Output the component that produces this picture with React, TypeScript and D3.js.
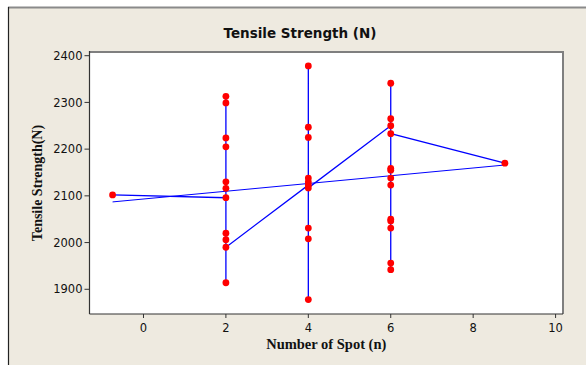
import React from 'react';
import * as d3 from 'd3';

// Scatter of tensile strength vs number of spots, with a connect line
// through the runs (worksheet order) and a fitted straight line.

const WIDTH = 586;
const HEIGHT = 365;
const PLOT = { left: 89.5, right: 563, top: 52, bottom: 314 };

// runs in worksheet order
const spots = [
  -0.75,
  2, 2, 2, 2, 2, 2, 2, 2, 2, 2, 2,
  4, 4, 4, 4, 4, 4, 4, 4, 4, 4,
  6, 6, 6, 6, 6, 6, 6, 6, 6, 6, 6, 6, 6,
  8.77,
];
const strengths = [
  2102,
  2096, 2313, 2299, 2224, 2205, 2130, 2116, 2020, 2006, 1914, 1990,
  2123, 2378, 2247, 2225, 2138, 2130, 2031, 2008, 1878, 2117,
  2250, 2341, 2265, 2159, 2155, 2138, 2123, 2050, 2046, 2031, 1956, 1942, 2233,
  2170,
];

const fitX = [-0.75, 8.77];
const fitY = [2087, 2166];

const xTicks = [0, 2, 4, 6, 8, 10];
const yTicks = [1900, 2000, 2100, 2200, 2300, 2400];

const TITLE = 'Tensile Strength (N)';
const X_LABEL = 'Number of Spot (n)';
const Y_LABEL = 'Tensile Strength(N)';

export default function App() {
  const x = d3.scaleLinear().domain([-1.31, 10.18]).range([PLOT.left, PLOT.right]);
  const y = d3.scaleLinear().domain([1847.1, 2407.9]).range([PLOT.bottom, PLOT.top]);

  const points = spots.map((s, i) => [s, strengths[i]] as [number, number]);
  const line = d3
    .line<[number, number]>()
    .x((d) => x(d[0]))
    .y((d) => y(d[1]));
  const fitPoints = fitX.map((v, i) => [v, fitY[i]] as [number, number]);

  const sans = '"DejaVu Sans", Verdana, sans-serif';
  const serif = '"Liberation Serif", "Times New Roman", serif';

  return (
    <svg
      width={WIDTH}
      height={HEIGHT}
      viewBox={`0 0 ${WIDTH} ${HEIGHT}`}
      style={{ position: 'absolute', left: 0, top: 0, display: 'block' }}
    >
      <rect x={0} y={0} width={WIDTH} height={HEIGHT} fill="#ffffff" />
      <rect x={8} y={7} width={WIDTH - 8} height={HEIGHT - 7} fill="#eeeae0" />
      {/* outer frame */}
      <line x1={8} x2={WIDTH} y1={7.5} y2={7.5} stroke="#8a8a8a" strokeWidth={2} />
      <line x1={8.5} x2={8.5} y1={7} y2={HEIGHT} stroke="#222" strokeWidth={1.2} />

      <text
        x={300}
        y={38}
        textAnchor="middle"
        fontFamily={sans}
        fontWeight="bold"
        fontSize={13.5}
        fill="#111"
      >
        {TITLE}
      </text>

      {/* plot area */}
      <rect
        x={PLOT.left}
        y={PLOT.top}
        width={PLOT.right - PLOT.left}
        height={PLOT.bottom - PLOT.top}
        fill="#ffffff"
      />
      <line x1={PLOT.left} x2={PLOT.right + 1} y1={PLOT.top} y2={PLOT.top} stroke="#7f7f7f" strokeWidth={2} />
      <line x1={PLOT.right} x2={PLOT.right} y1={PLOT.top} y2={PLOT.bottom} stroke="#7f7f7f" strokeWidth={2} />
      <line x1={PLOT.left} x2={PLOT.left} y1={PLOT.top - 1} y2={PLOT.bottom} stroke="#333" strokeWidth={1.2} />
      <line x1={PLOT.left} x2={PLOT.right} y1={PLOT.bottom} y2={PLOT.bottom} stroke="#333" strokeWidth={1.2} />

      {/* y axis */}
      {yTicks.map((t) => (
        <g key={`y-${t}`}>
          <line x1={PLOT.left - 5} x2={PLOT.left} y1={y(t)} y2={y(t)} stroke="#333" strokeWidth={1} />
          <text
            x={PLOT.left - 7}
            y={y(t)}
            dy="0.36em"
            textAnchor="end"
            fontFamily={sans}
            fontSize={11.5}
            fill="#111"
          >
            {t}
          </text>
        </g>
      ))}

      {/* x axis */}
      {xTicks.map((t) => (
        <g key={`x-${t}`}>
          <line x1={x(t)} x2={x(t)} y1={PLOT.bottom} y2={PLOT.bottom + 4} stroke="#333" strokeWidth={1} />
          <text
            x={x(t)}
            y={PLOT.bottom + 18}
            textAnchor="middle"
            fontFamily={sans}
            fontSize={11.5}
            fill="#111"
          >
            {t}
          </text>
        </g>
      ))}

      <text
        x={(PLOT.left + PLOT.right) / 2}
        y={349}
        textAnchor="middle"
        fontFamily={serif}
        fontWeight="bold"
        fontSize={14.5}
        fill="#111"
      >
        {X_LABEL}
      </text>
      <text
        transform={`translate(41.5, ${(PLOT.top + PLOT.bottom) / 2}) rotate(-90)`}
        textAnchor="middle"
        fontFamily={serif}
        fontWeight="bold"
        fontSize={14}
        fill="#111"
      >
        {Y_LABEL}
      </text>

      {/* fitted line + connect line */}
      <path d={line(fitPoints) ?? ''} fill="none" stroke="#0000ff" strokeWidth={1} />
      <path d={line(points) ?? ''} fill="none" stroke="#0000ff" strokeWidth={1.3} />

      {points.map((p, i) => (
        <circle key={`pt-${i}`} cx={x(p[0])} cy={y(p[1])} r={3.4} fill="#ff0000" />
      ))}
    </svg>
  );
}
